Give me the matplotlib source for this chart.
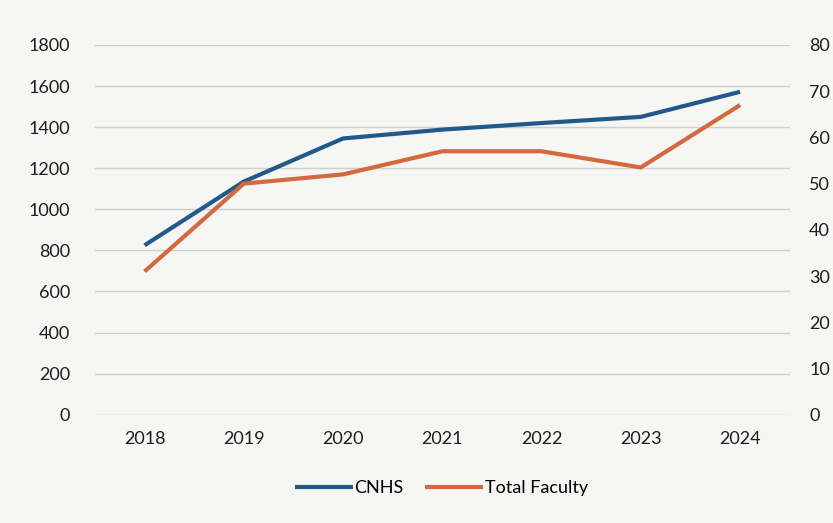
import matplotlib.pyplot as plt

plt.rcParams['font.family'] = ['Lato', 'DejaVu Sans']

years = ['2018', '2019', '2020', '2021', '2022', '2023', '2024']
cnhs = [825, 1135, 1345, 1388, 1420, 1450, 1572]
faculty = [31, 50, 52, 57, 57, 53.5, 67]

blue = '#215a8a'
orange = '#d4683f'

fig = plt.figure(figsize=(8.33, 5.23), dpi=100, facecolor='#f6f6f4')
ax = fig.add_axes([0.114, 0.207, 0.834, 0.707])
ax.set_facecolor('#f6f6f4')
ax2 = ax.twinx()

#left axis: CNHS
l1, = ax.plot(years, cnhs, color=blue, lw=3, label='CNHS', solid_capstyle='butt')
ax.set_ylim(0, 1800)
ax.set_yticks(range(0, 1801, 200))
ax.set_xlim(-0.5, 6.5)
ax.yaxis.grid(True, color='#cfcfcf', lw=1)
ax.set_axisbelow(True)

#right axis: total faculty
l2, = ax2.plot(years, faculty, color=orange, lw=3, label='Total Faculty', solid_capstyle='butt')
ax2.set_ylim(0, 80)
ax2.set_yticks(range(0, 81, 10))

for a in (ax, ax2):
    for s in a.spines.values():
        s.set_visible(False)
    a.tick_params(length=0, labelsize=13, colors='#1e1e1e')
ax.tick_params(axis='y', pad=18)
ax2.tick_params(axis='y', pad=14)
ax.tick_params(axis='x', pad=12)

fig.legend(handles=[l1, l2], loc='center', bbox_to_anchor=(0.53, 0.067), ncol=2,
           frameon=False, fontsize=13, handlelength=3.2, handletextpad=0.1, columnspacing=1.2)

fig.savefig('out.png', dpi=100, facecolor=fig.get_facecolor())
